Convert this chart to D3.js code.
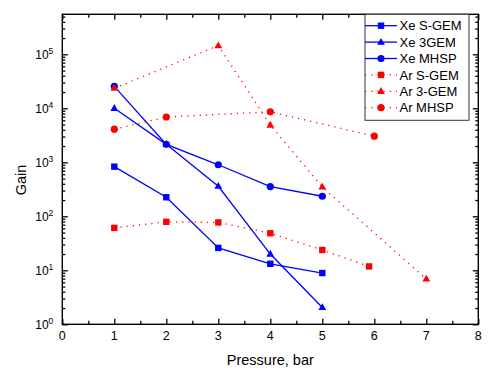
<!DOCTYPE html>
<html><head><meta charset="utf-8">
<script src="https://cdn.jsdelivr.net/npm/d3@7"></script>
<style>body{margin:0;background:#fff}svg{display:block}text{font-family:"Liberation Sans",Arial,sans-serif}</style>
</head><body>
<svg id="c" width="498" height="378"></svg>
<script>
const xeSgemX = [1,2,3,4,5];
const xeSgemY = [830,225,26,13.2,8.9];
const xe3gemX = [1,2,3,4,5];
const xe3gemY = [10000,2150,360,20,2.05];
const xeMhspX = [1,2,3,4,5];
const xeMhspY = [25500,2150,900,355,235];
const arSgemX = [1,2,3,4,5,5.9];
const arSgemY = [61,79,77,48.5,23.8,11.8];
const ar3gemX = [1,3,4,5,7];
const ar3gemY = [23500,145000,4900,350,6.9];
const arMhspX = [1,2,4,6];
const arMhspY = [4100,6900,8600,3050];
const seriesNames = ["Xe S-GEM","Xe 3GEM","Xe MHSP","Ar S-GEM","Ar 3-GEM","Ar MHSP"];
const xTicks = [0,1,2,3,4,5,6,7,8];
const yTickExps = [0,1,2,3,4,5];

const series = [
  {name:seriesNames[0], xs:xeSgemX, ys:xeSgemY, color:"#0000ff", sym:"square", dash:null},
  {name:seriesNames[1], xs:xe3gemX, ys:xe3gemY, color:"#0000ff", sym:"triangle", dash:null},
  {name:seriesNames[2], xs:xeMhspX, ys:xeMhspY, color:"#0000ff", sym:"circle", dash:null},
  {name:seriesNames[3], xs:arSgemX, ys:arSgemY, color:"#ff0000", sym:"square", dash:"1.2,5"},
  {name:seriesNames[4], xs:ar3gemX, ys:ar3gemY, color:"#ff0000", sym:"triangle", dash:"1.2,5"},
  {name:seriesNames[5], xs:arMhspX, ys:arMhspY, color:"#ff0000", sym:"circle", dash:"1.2,5"}
];

const L = 62.3, T = 14.3, R = 478.3, B = 324.3;
const svg = d3.select("#c");
const x = d3.scaleLinear().domain([0,8]).range([L,R]);
const y = d3.scaleLog().domain([1, Math.pow(10,(B-T)/54)]).range([B,T]);

// minor ticks
const xMinor = d3.range(0.5,8,1);
const yMinor = [];
for (let e=0;e<6;e++) for (let m=2;m<=9;m++) { const v=m*Math.pow(10,e); if (v<y.domain()[1]) yMinor.push(v); }

const g = svg.append("g");
function axis(a, tr){ const s=g.append("g").attr("transform",tr).call(a); s.select(".domain").remove(); s.selectAll("line").attr("stroke","#000").attr("stroke-width",1.3); return s; }
axis(d3.axisBottom(x).tickValues(xTicks).tickSize(-5.5).tickFormat(""), `translate(0,${B})`);
axis(d3.axisBottom(x).tickValues(xMinor).tickSize(-3.5).tickFormat(""), `translate(0,${B})`);
axis(d3.axisTop(x).tickValues(xTicks).tickSize(-5.5).tickFormat(""), `translate(0,${T})`);
axis(d3.axisTop(x).tickValues(xMinor).tickSize(-3.5).tickFormat(""), `translate(0,${T})`);
const yMajorVals = yTickExps.map(e=>Math.pow(10,e));
axis(d3.axisLeft(y).tickValues(yMajorVals).tickSize(-5.5).tickFormat(""), `translate(${L},0)`);
axis(d3.axisLeft(y).tickValues(yMinor).tickSize(-3).tickFormat(""), `translate(${L},0)`);
axis(d3.axisRight(y).tickValues(yMajorVals).tickSize(-5.5).tickFormat(""), `translate(${R},0)`);
axis(d3.axisRight(y).tickValues(yMinor).tickSize(-3).tickFormat(""), `translate(${R},0)`);

// frame
g.append("rect").attr("x",L).attr("y",T).attr("width",R-L).attr("height",B-T)
  .attr("fill","none").attr("stroke","#000").attr("stroke-width",1.4);

// tick labels
g.selectAll(".xl").data(xTicks).enter().append("text")
  .attr("x",d=>x(d)).attr("y",B+16).attr("text-anchor","middle")
  .attr("font-size",12.5).text(d=>d);
const yl = g.selectAll(".yl").data(yTickExps).enter().append("text")
  .attr("x",L-9).attr("y",d=>y(Math.pow(10,d))+4.3).attr("text-anchor","end").attr("font-size",12);
yl.append("tspan").text("10");
yl.append("tspan").attr("dy",-5).attr("font-size",8.5).text(d=>d);

// axis titles
svg.append("text").attr("x",(L+R)/2).attr("y",365).attr("text-anchor","middle").attr("font-size",14.5).text("Pressure, bar");
svg.append("text").attr("transform","translate(26,180) rotate(-90)").attr("text-anchor","middle").attr("font-size",14.5).text("Gain");

function symbol(sel, sym, color){
  if (sym==="square") sel.append("rect").attr("x",-3.2).attr("y",-3.2).attr("width",6.4).attr("height",6.4).attr("fill",color);
  else if (sym==="circle") sel.append("circle").attr("r",3.6).attr("fill",color);
  else sel.append("path").attr("d","M0,-4.2L3.9,2.6L-3.9,2.6Z").attr("fill",color);
}

const line = d3.line().x(d=>x(d[0])).y(d=>y(d[1]));
series.forEach(s=>{
  const pts = s.xs.map((v,i)=>[v,s.ys[i]]);
  const p = g.append("path").datum(pts).attr("d",line).attr("fill","none").attr("stroke",s.color)
    .attr("stroke-width",s.dash?1.3:1.3);
  if (s.dash) p.attr("stroke-dasharray",s.dash);
  g.selectAll(null).data(pts).enter().append("g")
    .attr("transform",d=>`translate(${x(d[0])},${y(d[1])})`)
    .each(function(){ symbol(d3.select(this), s.sym, s.color); });
});

// legend
const lg = svg.append("g");
lg.append("rect").attr("x",365).attr("y",T).attr("width",104).attr("height",106)
  .attr("fill","#fff").attr("stroke","#333").attr("stroke-width",1);
series.forEach((s,i)=>{
  const yy = 25.7 + i*16.4;
  const l = lg.append("line").attr("x1",365).attr("x2",397).attr("y1",yy).attr("y2",yy)
    .attr("stroke",s.color).attr("stroke-width",1.3);
  if (s.dash) l.attr("stroke-dasharray",s.dash);
  symbol(lg.append("g").attr("transform",`translate(381,${yy})`), s.sym, s.color);
  lg.append("text").attr("x",399.5).attr("y",yy+4.7).attr("font-size",13).text(s.name);
});
</script>
</body></html>
